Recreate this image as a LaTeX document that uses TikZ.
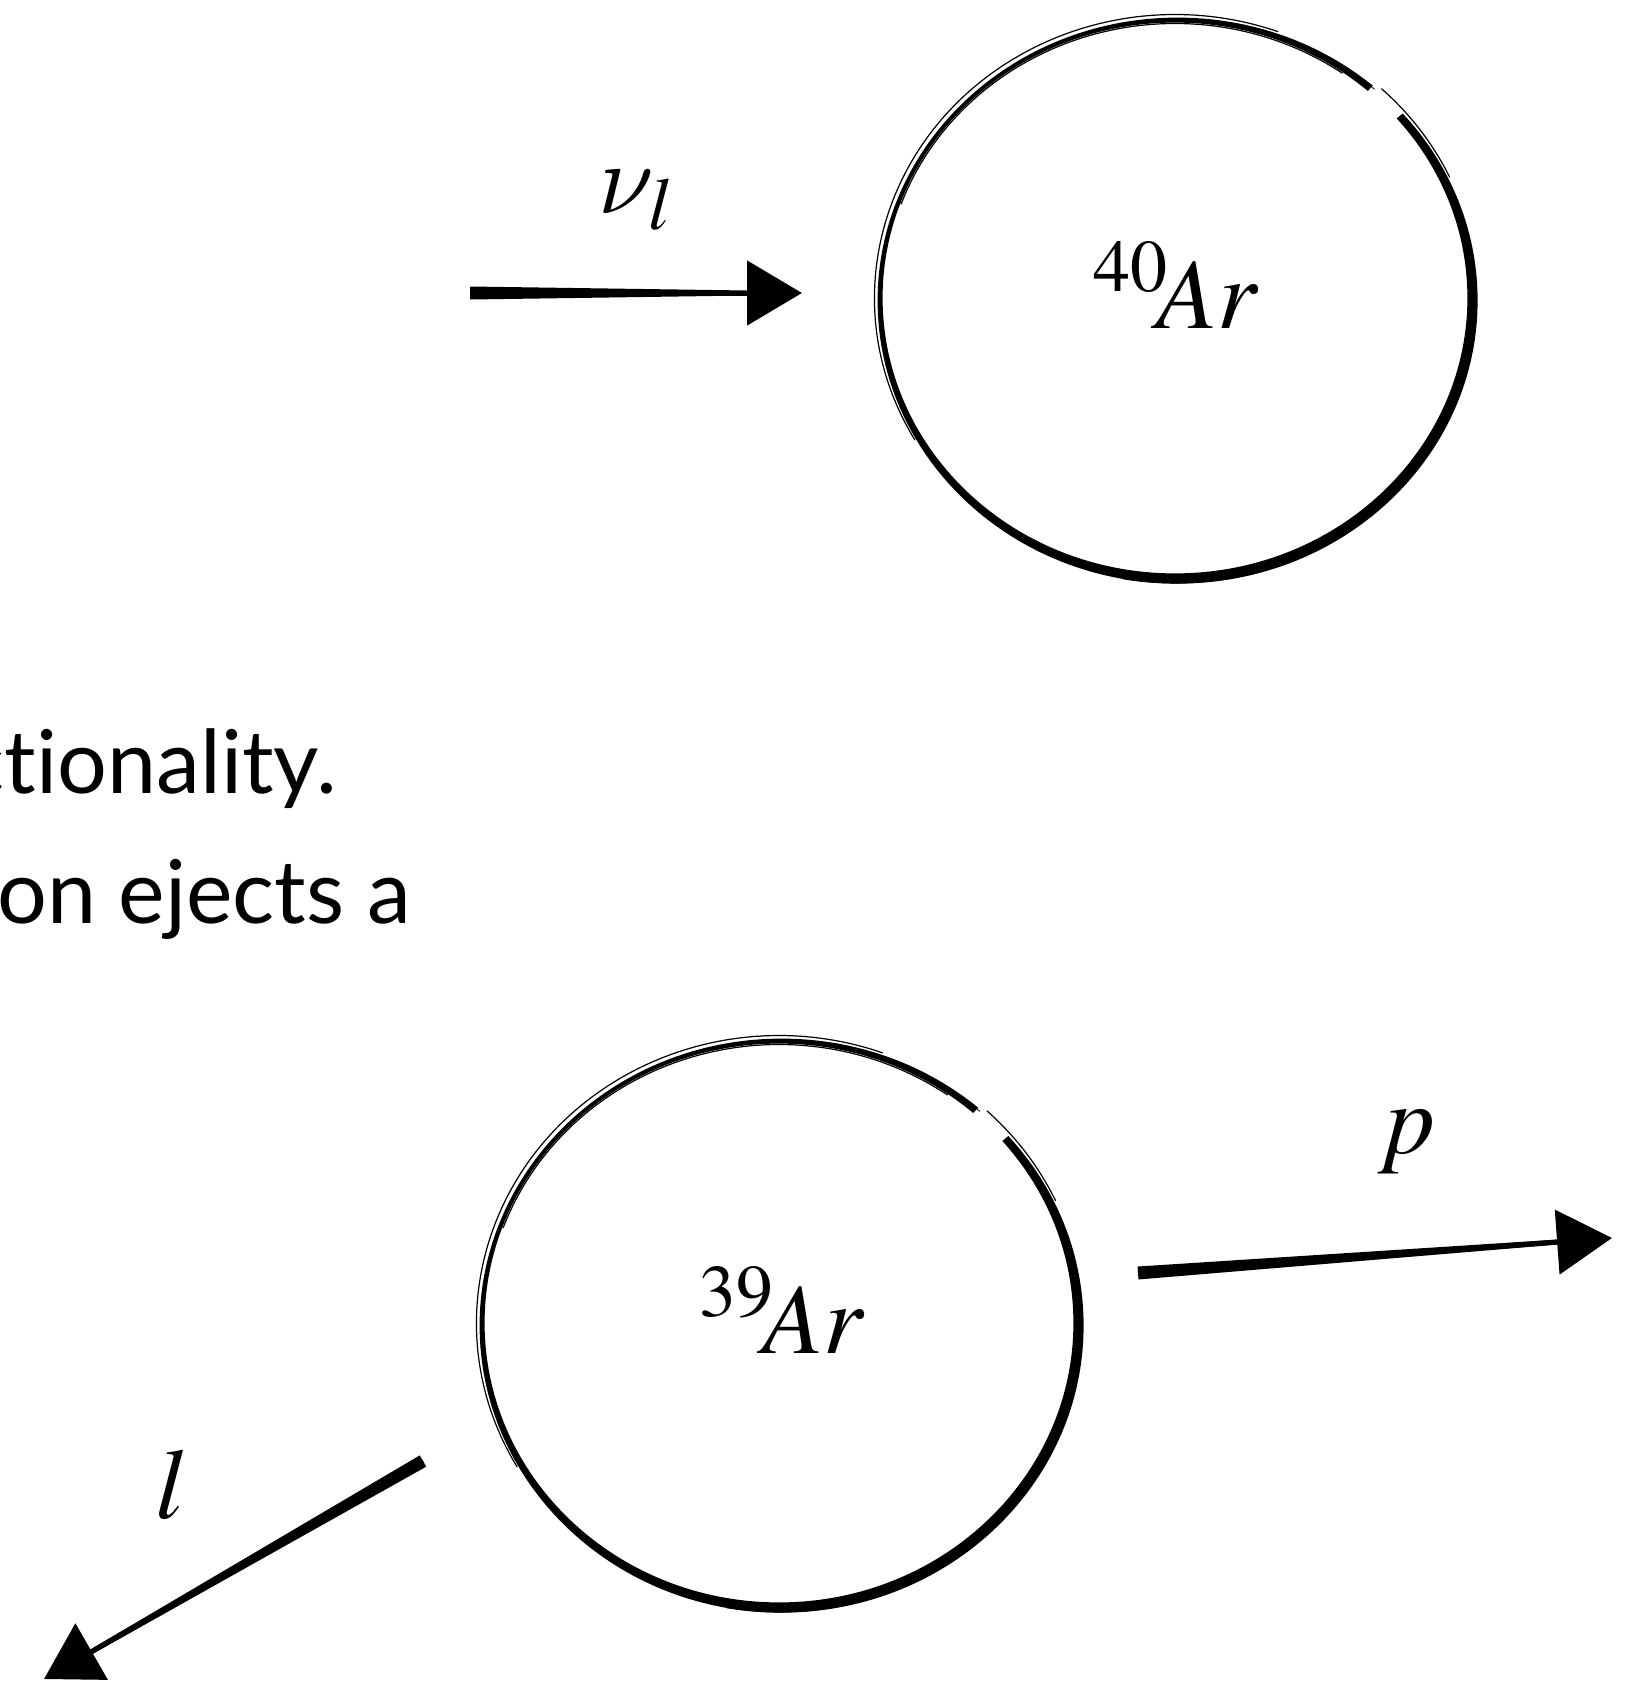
\documentclass[tikz,border=0pt]{standalone}
\usepackage{mathptmx}
\usepackage[no-math]{fontspec}
\newfontfamily\gill[Ligatures=NoCommon]{Lato}
\DeclareFontFamily{OML}{mycmm}{\skewchar\font127}
\DeclareFontShape{OML}{mycmm}{m}{it}{<->cmmi10}{}
\DeclareSymbolFont{cmletters}{OML}{mycmm}{m}{it}
\DeclareMathSymbol{\cmnu}{\mathord}{cmletters}{"17}
\usetikzlibrary{arrows.meta,shapes.geometric,calc}
\newcommand\brusharrow[2]{%
  \coordinate (tmpH) at ($(#2)!55pt!(#1)$);
  \fill ($(#1)!6.5pt!90:(#2)$) -- ($(tmpH)!2.5pt!-90:(#1)$) -- ($(tmpH)!2.5pt!90:(#1)$) -- ($(#1)!6.5pt!-90:(#2)$) -- cycle;
  \draw[arr] (#1) -- (#2);
}
% #1 node, #2 rx, #3 ry
\newcommand\brushring[3]{%
  \fill[even odd rule] ([shift={(2.6,2.6)}]#1.center) ellipse[x radius=#2+4, y radius=#3+4]
       (#1.center) ellipse[x radius=#2-3.6, y radius=#3-3.6];
  \fill[white] (#1.center) -- ([shift={(-48.5:#2+40 and #3+40)}]#1.center) -- ([shift={(-40.5:#2+40 and #3+40)}]#1.center) -- cycle;
  \draw[sketch] ([shift={(150:#2+4.5 and #3+4.5)}]#1.center) arc[start angle=150,end angle=290,x radius=#2+4.5,y radius=#3+4.5];
  \draw[sketch] ([shift={(200:#2-4.5 and #3-4.5)}]#1.center) arc[start angle=200,end angle=305,x radius=#2-4.5,y radius=#3-4.5];
  \draw[sketch] ([shift={(-47:#2+7 and #3+7)}]#1.center) arc[start angle=-47,end angle=-25,x radius=#2+7,y radius=#3+7];
  \draw[sketch,line width=0.8pt] ([shift={(-58:#2+2 and #3+2)}]#1.center) arc[start angle=-58,end angle=-48,x radius=#2+2,y radius=#3+2];
  \draw[sketch,line width=1pt] ([shift={(20:#2+6 and #3+6)}]#1.center) arc[start angle=20,end angle=100,x radius=#2+6,y radius=#3+6];
}
\begin{document}
\begin{tikzpicture}[x=1pt,y=-1pt,
  sketch/.style={line width=1.2pt,line cap=round},
  arr/.style={line width=5pt,-{Triangle[length=55pt,width=64pt]}},
  mathlab/.style={inner sep=0pt,font=\fontsize{100}{120}\selectfont},
  bodytext/.style={inner sep=0pt,font=\gill\fontsize{88}{130}\selectfont},
  nucleus/.style={ellipse,inner sep=0pt,draw=none}]
\clip (0,0) rectangle (1644,1682);
\fill[white] (0,0) rectangle (1644,1682);

% text on the left (cut off at the edge)
\node[bodytext,anchor=base east] (t1) at (337,793) {ctionality.};
\node[bodytext,anchor=base east] (t2) at (411,923) {on ejects a};

% top nucleus 40Ar
\node[nucleus,minimum width=592pt,minimum height=558pt] (ar40) at (1175,298) {};
\brushring{ar40}{296}{279}
\node[mathlab,anchor=base] (l40) at (1176,328) {${}^{40}\!Ar$};

% incoming neutrino
\coordinate (nu0) at (470,293);
\coordinate (nu1) at (802,293);
\brusharrow{nu0}{nu1}
\node[mathlab,anchor=base] (nulab) at (636,213) {$\cmnu_l$};

% bottom nucleus 39Ar
\node[nucleus,minimum width=596pt,minimum height=566pt] (ar39) at (779,1323) {};
\brushring{ar39}{298}{283}
\node[mathlab,anchor=base] (l39) at (782,1353) {${}^{39}\!Ar$};

% outgoing proton
\coordinate (p0) at (1138,1273);
\coordinate (p1) at (1612,1238);
\brusharrow{p0}{p1}
\node[mathlab,anchor=base] (plab) at (1407,1153) {$p$};

% outgoing lepton
\coordinate (l0) at (423,1461);
\coordinate (l1) at (44,1679);
\brusharrow{l0}{l1}
\node[mathlab,anchor=base] (llab) at (172,1518) {$l$};
\end{tikzpicture}
\end{document}
